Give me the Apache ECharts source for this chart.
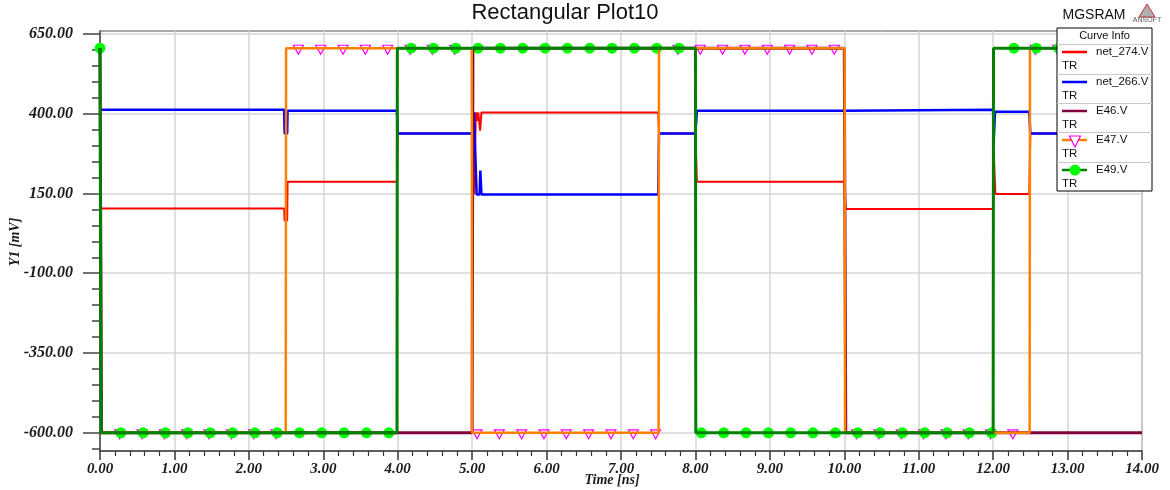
<!DOCTYPE html>
<html>
<head>
<meta charset="utf-8">
<script src="https://cdn.jsdelivr.net/npm/echarts@6/dist/echarts.min.js"></script>
<style>
html,body{margin:0;padding:0;background:#fff;}
#chart{width:1170px;height:490px;}
</style>
</head>
<body>
<div id="chart"></div>
<script>
// ---- data (time in ns, value in mV) ----
const net274 = [[0,103],[2.475,103],[2.48,65],[2.515,65],[2.52,187],[3.99,187],[4.0,338],[5.0,338],[5.025,147],[5.05,404],[5.07,404],[5.075,378],[5.082,404],[5.10,404],[5.107,347],[5.125,404],[7.5,404],[7.51,338],[8.0,338],[8.02,187],[10.0,187],[10.02,101],[12.0,101],[12.008,280],[12.03,148],[12.485,148],[12.5,338],[14,338]];
const net266 = [[0,412],[2.475,412],[2.48,338],[2.515,338],[2.52,409],[3.99,409],[4.0,338],[5.0,338],[5.025,404],[5.045,404],[5.06,147],[5.10,147],[5.11,222],[5.125,147],[7.5,147],[7.51,338],[8.0,338],[8.02,409],[10.0,409],[10.02,412],[12.0,412],[12.005,296],[12.025,406],[12.485,406],[12.5,338],[14,338]];
const e46 = [[0,605],[0.02,-600],[5.0,-600],[5.01,605],[10.0,605],[10.02,-600],[14,-600]];
const e47 = [[0,-600],[2.495,-600],[2.5,605],[4.995,605],[5.0,-600],[7.505,-600],[7.51,605],[10.005,605],[10.01,-600],[12.49,-600],[12.495,605],[14,605]];
const e49 = [[0,605],[0.015,-600],[3.99,-600],[3.995,605],[8.0,605],[8.005,-600],[12.0,-600],[12.005,605],[14,605]];
const e49MarkerT = [0,0.28,0.58,0.88,1.18,1.48,1.78,2.08,2.38,2.68,2.98,3.28,3.58,3.88,4.18,4.48,4.78,5.08,5.38,5.68,5.98,6.28,6.58,6.88,7.18,7.48,7.78,8.08,8.38,8.68,8.98,9.28,9.58,9.88,10.18,10.48,10.78,11.08,11.38,11.68,11.98,12.28,12.58,12.88,13.18,13.48,13.78];
const e47MarkerT = [0.265,0.565,0.865,1.165,1.465,1.765,2.065,2.365,2.665,2.965,3.265,3.565,3.865,4.165,4.465,4.765,5.065,5.365,5.665,5.965,6.265,6.565,6.865,7.165,7.465,7.765,8.065,8.365,8.665,8.965,9.265,9.565,9.865,10.165,10.465,10.765,11.065,11.365,11.665,11.965,12.265,12.565,12.865,13.165,13.465,13.765];
const yMajorTicks = [-600,-350,-100,150,400,650];
const yMinorTicks = [-650,-550,-500,-450,-400,-300,-250,-200,-150,-50,0,50,100,200,250,300,350,450,500,550,600];
const legendNames = ['net_274.V','net_266.V','E46.V','E47.V','E49.V'];
const colors = ['#ff0000','#0000ff','#800040','#ff8000','#008000'];

// value of a step waveform at time t (last sample at or before t)
function valueAt(series, t){
  let v = series[0][1];
  for (const p of series){ if (p[0] <= t) v = p[1]; else break; }
  return v;
}

const chart = echarts.init(document.getElementById('chart'), null, {renderer:'canvas'});
const serifLbl = {fontFamily:'Liberation Serif', fontStyle:'italic', fontWeight:'bold', color:'#1a1a1a'};

function lineSeries(name, data, color, width){
  return {name, type:'line', data, showSymbol:false, symbol:'none', lineStyle:{color, width}, itemStyle:{color}, clip:true, animation:false};
}

// legend graphic
const lx = 1057, lw = 95;
const rowTops = [44, 74, 103, 132, 162];
const g = [];
g.push({type:'rect', shape:{x:lx, y:28, width:lw, height:163}, style:{fill:'#fff', stroke:'#000', lineWidth:1}, z:100});
g.push({type:'text', x:lx+lw/2, y:36, style:{text:'Curve Info', fill:'#111', font:'11px "Liberation Sans"', textAlign:'center', textVerticalAlign:'middle'}, z:101});
rowTops.forEach((t,i)=>{
  g.push({type:'line', shape:{x1:lx, y1:t+0.5, x2:lx+lw, y2:t+0.5}, style:{stroke:'#c8c8c8', lineWidth:1}, z:101});
  g.push({type:'line', shape:{x1:1062, y1:t+8, x2:1087, y2:t+8}, style:{stroke:colors[i], lineWidth:2.5}, z:102});
  g.push({type:'text', x:1096, y:t+8, style:{text:legendNames[i], fill:'#111', font:'11.5px "Liberation Sans"', textVerticalAlign:'middle'}, z:102});
  g.push({type:'text', x:1062, y:t+22, style:{text:'TR', fill:'#111', font:'11.5px "Liberation Sans"', textVerticalAlign:'middle'}, z:102});
});
g.push({type:'polygon', shape:{points:[[1069.5,136],[1080.5,136],[1075,147]]}, style:{fill:'#fff', stroke:'#ff00ff', lineWidth:1.2}, z:103});
g.push({type:'circle', shape:{cx:1075, cy:170, r:5.5}, style:{fill:'#00ff00'}, z:103});
// titles
g.push({type:'text', x:565, y:13, style:{text:'Rectangular Plot10', fill:'#111', font:'22px "Liberation Sans"', textAlign:'center', textVerticalAlign:'middle'}});
g.push({type:'text', x:1094, y:15, style:{text:'MGSRAM', fill:'#111', font:'14px "Liberation Sans"', textAlign:'center', textVerticalAlign:'middle'}});
g.push({type:'polygon', shape:{points:[[1147,4],[1139,17],[1155,17]]}, style:{fill:'#b0b0b0', stroke:'#c03030', lineWidth:1}});
g.push({type:'text', x:1147, y:20, style:{text:'ANSOFT', fill:'#555', font:'7px "Liberation Sans"', textAlign:'center', textVerticalAlign:'middle'}});
g.push({type:'text', x:612, y:480, style:{text:'Time [ns]', fill:'#1a1a1a', font:'italic bold 14px "Liberation Serif"', textAlign:'center', textVerticalAlign:'middle'}});
g.push({type:'text', x:15, y:242, rotation:Math.PI/2, style:{text:'Y1 [mV]', fill:'#1a1a1a', font:'italic bold 14px "Liberation Serif"', textAlign:'center', textVerticalAlign:'middle'}});

const option = {
  animation:false,
  backgroundColor:'#fff',
  grid:{left:100, right:28, top:31, bottom:39, show:true, borderColor:'#555', borderWidth:1, backgroundColor:'#fff'},
  xAxis:{
    type:'value', min:0, max:14, interval:1,
    axisLine:{show:true, onZero:false, lineStyle:{color:'#444', width:1.5}},
    axisTick:{show:true, length:9, lineStyle:{color:'#333', width:1.5}},
    minorTick:{show:true, splitNumber:5, length:5, lineStyle:{color:'#333', width:1.2}},
    axisLabel:Object.assign({fontSize:15, margin:11, formatter:v=>v.toFixed(2)}, serifLbl),
    splitLine:{show:true, lineStyle:{color:'#d4d4d4', width:1.5}},
    minorSplitLine:{show:false}
  },
  yAxis:[
    {type:'value', min:-657, max:659, position:'left',
     axisLine:{show:true, onZero:false, lineStyle:{color:'#444', width:1.5}},
     axisTick:{show:true, length:17, customValues:yMajorTicks, lineStyle:{color:'#444', width:1.5}},
     axisLabel:Object.assign({fontSize:16, margin:27, customValues:yMajorTicks, formatter:v=>v.toFixed(2)}, serifLbl),
     splitLine:{show:true, lineStyle:{color:'#d4d4d4', width:1.5}}},
    {type:'value', min:-657, max:659, position:'left',
     axisLine:{show:false},
     axisTick:{show:true, length:8, customValues:yMinorTicks, lineStyle:{color:'#444', width:1.5}},
     axisLabel:{show:false},
     splitLine:{show:false}}
  ],
  graphic:g,
  series:[
    lineSeries('net_274.V', net274, colors[0], 2),
    lineSeries('net_266.V', net266, colors[1], 2.5),
    lineSeries('E46.V', e46, colors[2], 3),
    lineSeries('E47.V', e47, colors[3], 2.5),
    {name:'E47.V markers', type:'scatter', data:e47MarkerT.map(t=>[t, valueAt(e47,t)]), symbol:'triangle', symbolRotate:180, symbolSize:[10,9], symbolOffset:[0,1.5],
     itemStyle:{color:'#ffffff', borderColor:'#ff00ff', borderWidth:1.2, opacity:1}, animation:false, clip:true},
    lineSeries('E49.V', e49, colors[4], 3),
    {name:'E49.V markers', type:'scatter', data:e49MarkerT.map(t=>[t, valueAt(e49,t)]), symbol:'circle', symbolSize:11,
     itemStyle:{color:'#00ff00', opacity:1}, animation:false, clip:true}
  ]
};
chart.setOption(option);
</script>
</body>
</html>
